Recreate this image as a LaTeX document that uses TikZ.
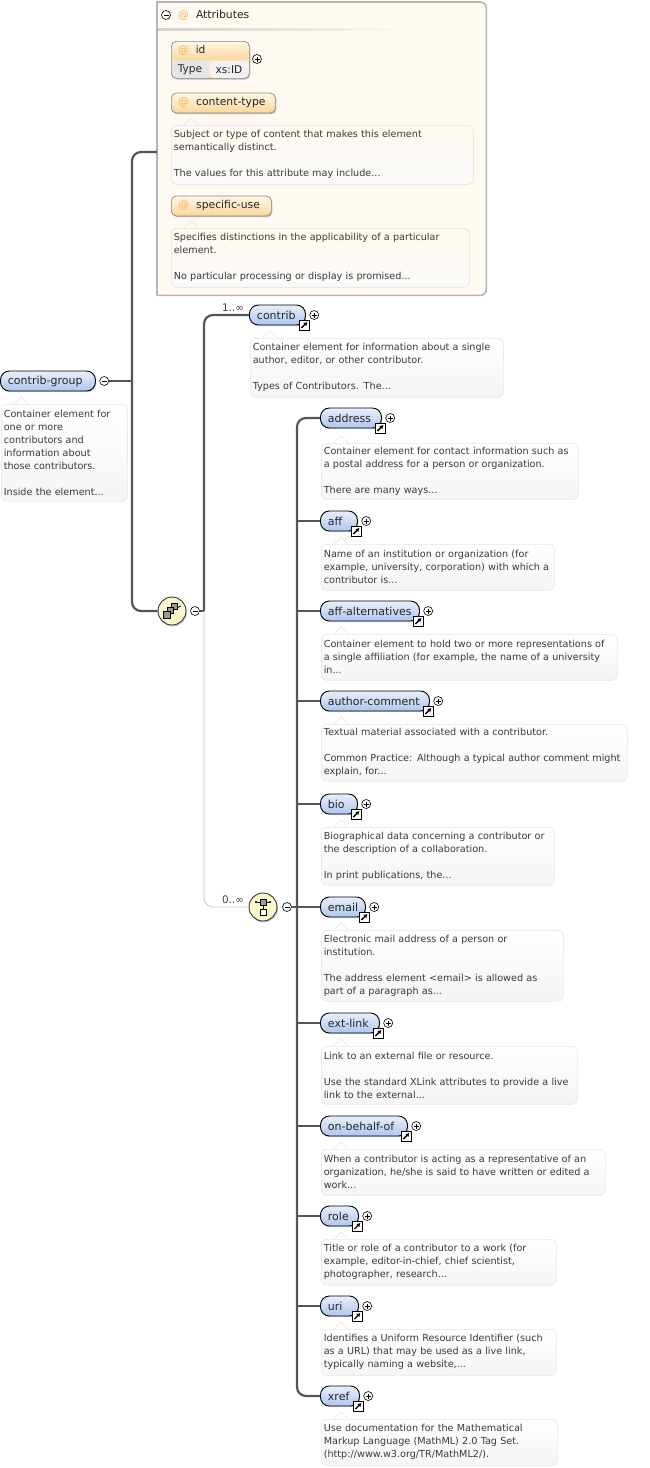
\documentclass[tikz,border=0pt]{standalone}
\usepackage{fontspec}
\setmainfont{DejaVu Sans}
\usetikzlibrary{positioning,shadows,arrows.meta}
\definecolor{conngray}{HTML}{555555}
\definecolor{thingray}{HTML}{C9C9C9}
\definecolor{elemtop}{HTML}{E9EFFB}
\definecolor{elembot}{HTML}{AEC6EE}
\definecolor{attrtop}{HTML}{FFF6E4}
\definecolor{attrbot}{HTML}{FBD79C}
\definecolor{atorange}{HTML}{F2B35C}
\definecolor{framecream}{HTML}{FFFAF1}
\definecolor{framegray}{HTML}{B4B4B4}
\definecolor{compfill}{HTML}{FBF8CC}
\definecolor{docline}{HTML}{E6E6E6}
\definecolor{doctext}{HTML}{3A3A3A}
\tikzset{
  elem/.style={draw=black,line width=.9pt,rounded corners=9pt,top color=elemtop,bottom color=elembot,
    text width=#1-15pt,minimum height=20pt,inner xsep=7.5pt,inner ysep=0pt,anchor=west,align=left,
    font=\fontsize{11}{11}\selectfont,text=black!85,
    drop shadow={shadow xshift=.8pt,shadow yshift=-1.2pt,opacity=.35}},
  attr/.style={draw=black!45,line width=.7pt,rounded corners=5pt,top color=attrtop,bottom color=attrbot,
    text width=#1-14pt,minimum height=20pt,inner xsep=7pt,inner ysep=0pt,anchor=west,align=left,
    font=\fontsize{10.8}{11}\selectfont,text=black!85,
    drop shadow={shadow xshift=1pt,shadow yshift=-1.2pt,opacity=.5}},
  doc/.style={draw=docline,line width=.6pt,rounded corners=5pt,top color=white,bottom color=black!4,
    text width=#1-5pt,anchor=north west,align=left,inner xsep=2.5pt,inner ysep=0pt,
    font=\fontsize{9.65}{13}\selectfont,text=doctext},
  attrdoc/.style={doc=#1,draw=black!12,top color=framecream,bottom color=attrtop!70!black!6},
  notch/.style={draw=docline,line width=.6pt,fill=white},
  conn/.style={draw=conngray,line width=2.2pt,rounded corners=9pt},
  branch/.style={draw=conngray,line width=1.8pt},
  thinconn/.style={draw=thingray,line width=.9pt,rounded corners=9pt},
  occ/.style={font=\fontsize{10.4}{10}\selectfont,text=black!75,inner sep=0pt},
  plusbtn/.style={circle,draw=black,fill=white,line width=.6pt,minimum size=9pt,inner sep=0pt,
    path picture={\draw[line width=.6pt] (path picture bounding box.center) ++(-2.5pt,0pt) -- ++(5pt,0pt);
      \draw[line width=.6pt] (path picture bounding box.center) ++(0pt,-2.5pt) -- ++(0pt,5pt);}},
  minusbtn/.style={circle,draw=black,fill=white,line width=.6pt,minimum size=9pt,inner sep=0pt,
    path picture={\draw[line width=.6pt] (path picture bounding box.center) ++(-2.5pt,0pt) -- ++(5pt,0pt);}},
  comp/.style={circle,draw=black!80,fill=compfill,line width=.9pt,minimum size=28pt,inner sep=0pt,
    drop shadow={shadow xshift=1pt,shadow yshift=-1.5pt,opacity=.4}},
  linkbox/.style={draw=black,fill=white,line width=.8pt,minimum size=10pt,inner sep=0pt,
    path picture={\draw[line width=1.3pt,-{Latex[length=3.5pt,width=4.5pt]}]
      ([shift={(-3pt,-3pt)}]path picture bounding box.center) -- ([shift={(3pt,3pt)}]path picture bounding box.center);}},
  cell/.style={inner sep=0pt,font=\fontsize{10.6}{11}\selectfont,text=black!85},
}
\begin{document}
\begin{tikzpicture}[x=1pt,y=-1pt]
    \useasboundingbox (0,0) rectangle (650,1468);
    % attributes frame
    \node [anchor=north west,fill=framecream,minimum width=329pt,minimum height=293pt,inner sep=0pt,rounded corners=4pt] (attrbox) at (157,2) {};
    \draw [framegray,line width=1.6pt] (attrbox.south west) -- (attrbox.north west) [rounded corners=6pt] -- (attrbox.north east) -- (attrbox.south east) -- (attrbox.south west);
    \node [anchor=north west,left color=black!18,right color=framecream,minimum width=255pt,minimum height=2pt,inner sep=0pt] (attrrule) at (158,28) {};
    \node [minusbtn] (attrminus) at (166,15) {};
    \node [anchor=west,inner sep=0pt,font=\fontsize{10.8}{11}\selectfont,text=black!85] (attrtitle) at (178,15.8) {\textcolor{atorange}{@}\hspace{7pt}Attributes};
    % attribute id
    \node [attr=78pt,anchor=north west,minimum height=37pt,path picture={
        \fill [black!10] (path picture bounding box.south west) rectangle ([shift={(38pt,18pt)}]path picture bounding box.south west);
        \fill [black!5] ([shift={(38pt,0pt)}]path picture bounding box.south west) rectangle ([yshift=18pt]path picture bounding box.south east);
        \shade [top color=attrtop,bottom color=attrbot] (path picture bounding box.north west) rectangle ([yshift=-19pt]path picture bounding box.north east);}] (id) at (171,41) {};
    \node [cell,anchor=west] (idlabel) at (178,50.8) {\textcolor{atorange}{@}\hspace{7pt}id};
    \node [cell] (idtype) at (190,69.8) {Type};
    \node [cell] (idval) at (229,69.8) {xs:ID};
    \node [plusbtn] (idplus) at (257,59) {};
    % attribute content-type
    \node [attr=104pt] (ctype) at (171,103) {\textcolor{atorange}{@}\hspace{7pt}content-type};
    \node [attrdoc=302pt,minimum height=59pt] (ctypedoc) at (171,125) {Subject or type of content that makes this element\\semantically distinct.\\[13pt]The values for this attribute may include...};
    % attribute specific-use
    \node [attr=100pt] (specuse) at (171,206) {\textcolor{atorange}{@}\hspace{7pt}specific-use};
    \node [attrdoc=298pt,minimum height=59pt] (specusedoc) at (171,228) {Specifies distinctions in the applicability of a particular\\element.\\[13pt]No particular processing or display is promised...};
    % root
    \node [elem=95pt] (group) at (0,381) {contrib-group};
    \node [doc=126pt,minimum height=97pt] (groupdoc) at (1,404) {Container element for\\one or more\\contributors and\\information about\\those contributors.\\[13pt]Inside the element...};
    \node [minusbtn,right=3.5pt of group] (groupminus) {};
    % compositors
    \node [comp] (choiceA) at (172,611) {};
    \node [minusbtn] (choiceAminus) at (195,611) {};
    \node [comp] (seqB) at (263,907) {};
    \node [minusbtn] (seqBminus) at (287,907) {};
    % contrib
    \node [elem=56pt] (contrib) at (249,315) {contrib};
    \node [doc=253pt,minimum height=59pt] (contribdoc) at (250,338) {Container element for information about a single\\author, editor, or other contributor.\\[13pt]Types of Contributors. The...};
    \node [occ] (occA) at (233,308) {1..∞};
    \node [occ] (occB) at (233,900) {0..∞};
    % children
    \node [elem=61pt] (address) at (320,418) {address};
    \node [doc=257pt,minimum height=56pt] (addressdoc) at (321,443) {Container element for contact information such as\\a postal address for a person or organization.\\[13pt]There are many ways...};
    \node [elem=37pt] (aff) at (320,521) {aff};
    \node [doc=233pt,minimum height=46pt] (affdoc) at (321,544) {Name of an institution or organization (for\\example, university, corporation) with which a\\contributor is...};
    \node [elem=99pt] (affalt) at (320,611) {aff-alternatives};
    \node [doc=296pt,minimum height=46pt] (affaltdoc) at (321,634) {Container element to hold two or more representations of\\a single affiliation (for example, the name of a university\\in...};
    \node [elem=109pt] (authcomment) at (320,701) {author-comment};
    \node [doc=306pt,minimum height=57pt] (authcommentdoc) at (321,724) {Textual material associated with a contributor.\\[13pt]Common Practice: Although a typical author comment might\\explain, for...};
    \node [elem=37pt] (bio) at (320,804) {bio};
    \node [doc=233pt,minimum height=58pt] (biodoc) at (321,827) {Biographical data concerning a contributor or\\the description of a collaboration.\\[13pt]In print publications, the...};
    \node [elem=45pt] (email) at (320,907) {email};
    \node [doc=242pt,minimum height=71pt] (emaildoc) at (321,930) {Electronic mail address of a person or\\institution.\\[13pt]The address element <email> is allowed as\\part of a paragraph as...};
    \node [elem=59pt] (extlink) at (320,1023) {ext-link};
    \node [doc=256pt,minimum height=58pt] (extlinkdoc) at (321,1046) {Link to an external file or resource.\\[13pt]Use the standard XLink attributes to provide a live\\link to the external...};
    \node [elem=87pt] (behalf) at (320,1126) {on-behalf-of};
    \node [doc=284pt,minimum height=46pt] (behalfdoc) at (321,1149) {When a contributor is acting as a representative of an\\organization, he/she is said to have written or edited a\\work...};
    \node [elem=38pt] (role) at (320,1216) {role};
    \node [doc=235pt,minimum height=46pt] (roledoc) at (321,1239) {Title or role of a contributor to a work (for\\example, editor-in-chief, chief scientist,\\photographer, research...};
    \node [elem=38pt] (uri) at (320,1306) {uri};
    \node [doc=235pt,minimum height=46pt] (uridoc) at (321,1329) {Identifies a Uniform Resource Identifier (such\\as a URL) that may be used as a live link,\\typically naming a website,...};
    \node [elem=39pt] (xref) at (320,1396) {xref};
    \node [doc=236pt,minimum height=46pt] (xrefdoc) at (321,1419) {Use documentation for the Mathematical\\Markup Language (MathML) 2.0 Tag Set.\\(http://www.w3.org/TR/MathML2/).};
    % callout tips
    \foreach \n in {groupdoc,contribdoc,addressdoc,affdoc,affaltdoc,authcommentdoc,biodoc,emaildoc,extlinkdoc,behalfdoc,roledoc,uridoc,xrefdoc}
        \draw [notch] ([xshift=13pt]\n.north west) -- ++(7,-7) -- ++(7,7);
    \foreach \n in {ctypedoc,specusedoc}
        \draw [notch,fill=framecream] ([xshift=13pt]\n.north west) -- ++(7,-7) -- ++(7,7);
    % connectors
    \coordinate (rootrail) at (132,381);
    \coordinate (attrin) at (157,152);
    \coordinate (contribrail) at (204,611);
    \coordinate (childrail) at (297,907);
    \draw [conn] (groupminus.east) -- (rootrail);
    \draw [conn] (attrin) -| (rootrail) |- (choiceA.west);
    \draw [conn] (choiceAminus.east) -- (contribrail);
    \draw [conn] (contrib.west) -| (contribrail);
    \draw [thinconn] (contribrail) |- (seqB.west);
    \draw [conn] (address.west) -| (childrail) |- (xref.west);
    \draw [branch] (seqBminus.east) -- (childrail);
    \foreach \n in {aff,affalt,authcomment,bio,email,extlink,behalf,role,uri}
        \draw [branch] (\n.west) -- (\n.west -| childrail);
    % plus buttons and link icons
    \foreach \n in {contrib,address,aff,affalt,authcomment,bio,email,extlink,behalf,role,uri,xref} {
        \node [plusbtn,right=3.5pt of \n] (\n plus) {};
        \node [linkbox] (\n link) at ([shift={(-1.5pt,-10pt)}]\n.east) {};
    }
    % compositor glyphs
    \draw [line width=.8pt] (163,614) -- (181,606);
    \filldraw [fill=black!40,draw=black,line width=.6pt] (171,603) rectangle (177,609);
    \filldraw [fill=black!40,draw=black,line width=.6pt] (167,607) rectangle (173,613);
    \filldraw [fill=black!40,draw=black,line width=.6pt] (163,611) rectangle (170,618);
    \draw [line width=.8pt,{Circle[length=2pt]}-{Circle[length=2pt]}] (255,902) -- (271,902);
    \filldraw [fill=black!40,draw=black,line width=.6pt] (260,899) rectangle (266,905);
    \draw [line width=.8pt] (263,905) -- (263,909);
    \filldraw [fill=white,draw=black,line width=.7pt] (260,909) rectangle (266,915);
\end{tikzpicture}
\end{document}
